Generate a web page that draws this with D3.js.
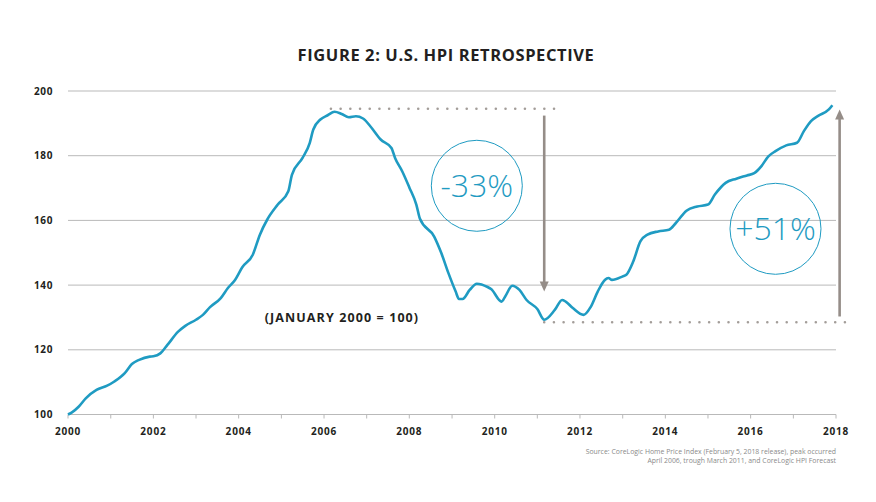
<!DOCTYPE html>
<html>
<head>
<meta charset="utf-8">
<script src="https://cdn.jsdelivr.net/npm/d3@7"></script>
<style>
  body { margin: 0; background: #fff; }
  text { font-family: 'Open Sans', 'Lato', sans-serif; }
</style>
</head>
<body>
<div id="chart"></div>
<script>
// monthly readings of the CoreLogic HPI (Jan 2000 = 100)
const months = [
  '2000-01', '2000-02', '2000-04', '2000-06', '2000-09', '2000-12',
  '2001-02', '2001-05', '2001-07', '2001-09', '2001-12',
  '2002-01', '2002-03', '2002-05', '2002-08', '2002-10',
  '2003-01', '2003-03', '2003-05', '2003-08', '2003-10', '2003-12',
  '2004-02', '2004-05', '2004-07', '2004-09', '2004-12',
  '2005-03', '2005-04', '2005-07', '2005-09', '2005-10', '2005-12',
  '2006-02', '2006-04', '2006-06', '2006-08', '2006-10', '2006-12',
  '2007-02', '2007-05', '2007-08', '2007-09', '2007-11',
  '2008-01', '2008-03', '2008-04', '2008-08', '2008-10', '2008-12',
  '2009-02', '2009-03', '2009-04', '2009-06', '2009-08', '2009-11', '2009-12',
  '2010-03', '2010-04', '2010-06', '2010-08', '2010-10',
  '2011-01', '2011-03', '2011-06', '2011-08', '2011-09', '2011-11',
  '2012-02', '2012-04', '2012-06', '2012-08', '2012-09', '2012-10',
  '2013-01', '2013-02', '2013-04', '2013-06', '2013-08', '2013-11',
  '2014-02', '2014-04', '2014-07', '2014-10',
  '2015-01', '2015-03', '2015-06', '2015-09', '2015-12',
  '2016-02', '2016-04', '2016-06', '2016-08', '2016-11',
  '2017-02', '2017-04', '2017-06', '2017-08', '2017-11', '2017-12'
]
const hpi = [
  100, 100.6, 102.4, 105, 107.6, 108.9,
  110.2, 112.8, 115.6, 116.9, 117.9,
  118, 118.9, 121.5, 125.6, 127.4,
  129.3, 130.8, 133.2, 136, 139.1, 141.6,
  145.5, 149.4, 155.6, 160.2, 164.9,
  169, 174.1, 179.3, 184, 188.1, 191.2,
  192.5, 193.6, 192.9, 191.9, 192.2, 191.5,
  189.1, 185, 182.4, 179.3, 175.2,
  170.2, 164.9, 160.5, 155, 149.9, 143.7,
  138, 135.7, 135.7, 138.5, 140.4, 139.4, 138.8,
  134.9, 136.5, 139.8, 138.5, 135.4,
  132.6, 129.3, 132.4, 135.4, 134.9, 132.9,
  130.8, 133.2, 138, 141.6, 142.2, 141.6,
  142.7, 143.2, 147.3, 153.5, 155.6, 156.6,
  157.1, 159.2, 163, 164.3,
  164.9, 168, 171.6, 172.9, 173.9,
  174.6, 176.7, 179.8, 181.4, 183.2,
  184, 187.6, 190.7, 192.3, 194.3, 195.6
]
const yTicks = [100, 120, 140, 160, 180, 200]
const tickYears = d3.range(2000, 2019)
const labelYears = [2000, 2002, 2004, 2006, 2008, 2010, 2012, 2014, 2016, 2018]

// peak / trough levels for the annotation
const peakLevel = 194.5
const troughLevel = 128.5
const peakSpan = ['2006-03', '2011-06']
const troughSpan = ['2011-03', '2018-06']
const downArrow = { month: '2011-03', from: 192.4, to: 138 }
const upArrow = { month: '2018-02', from: 130.3, to: 194.3 }
const badges = [
  { label: '-33%', month: '2009-08', value: 170.7 },
  { label: '+51%', month: '2016-08', value: 157.4 }
]

const teal = '#1f9bc2'
const taupe = '#958d88'
const ink = '#231f20'

var margin = { top: 91, left: 68, right: 40, bottom: 87.5 }
var width = 876 - margin.left - margin.right
var height = 502 - margin.top - margin.bottom

var root = d3
  .select('#chart')
  .append('svg')
  .attr('width', 876)
  .attr('height', 502)

var svg = root
  .append('g')
  .attr('transform', 'translate(' + margin.left + ',' + margin.top + ')')

const parse = d3.timeParse('%Y-%m')
const data = months.map((m, i) => ({ date: parse(m), value: hpi[i] }))

let xScale = d3
  .scaleTime()
  .domain([new Date(2000, 0, 1), new Date(2018, 0, 1)])
  .range([0, width])

let yScale = d3.scaleLinear().domain([100, 200]).range([height, 0])

// title
root
  .append('text')
  .text('FIGURE 2: U.S. HPI RETROSPECTIVE')
  .attr('x', 446)
  .attr('y', 61)
  .attr('text-anchor', 'middle')
  .attr('font-size', 16.5)
  .attr('font-weight', 700)
  .attr('letter-spacing', 0.6)
  .attr('fill', ink)

// gridlines
svg
  .selectAll('.grid')
  .data(yTicks)
  .enter()
  .append('line')
  .attr('class', 'grid')
  .attr('x1', 0)
  .attr('x2', width)
  .attr('y1', d => yScale(d))
  .attr('y2', d => yScale(d))
  .attr('stroke', '#b9b9b9')
  .attr('stroke-width', 1)

svg
  .selectAll('.y-label')
  .data(yTicks)
  .enter()
  .append('text')
  .attr('class', 'y-label')
  .text(d => d)
  .attr('x', -15)
  .attr('y', d => yScale(d))
  .attr('dy', '0.35em')
  .attr('text-anchor', 'end')
  .attr('font-size', 10)
  .attr('font-weight', 700)
  .attr('letter-spacing', 0.6)
  .attr('fill', ink)

// x axis ticks + labels
svg
  .selectAll('.x-tick')
  .data(tickYears)
  .enter()
  .append('line')
  .attr('class', 'x-tick')
  .attr('x1', d => xScale(new Date(d, 0, 1)))
  .attr('x2', d => xScale(new Date(d, 0, 1)))
  .attr('y1', height)
  .attr('y2', height + 4)
  .attr('stroke', '#b9b9b9')

svg
  .selectAll('.x-label')
  .data(labelYears)
  .enter()
  .append('text')
  .attr('class', 'x-label')
  .text(d => d)
  .attr('x', d => xScale(new Date(d, 0, 1)))
  .attr('y', height + 17)
  .attr('dy', '0.35em')
  .attr('text-anchor', 'middle')
  .attr('font-size', 10)
  .attr('font-weight', 700)
  .attr('letter-spacing', 0.8)
  .attr('fill', ink)

// dotted peak / trough guides
function dots(span, level) {
  svg
    .append('line')
    .attr('x1', xScale(parse(span[0])))
    .attr('x2', xScale(parse(span[1])))
    .attr('y1', yScale(level))
    .attr('y2', yScale(level))
    .attr('stroke', '#a39d99')
    .attr('stroke-width', 2.6)
    .attr('stroke-linecap', 'round')
    .attr('stroke-dasharray', '0 9.7')
}
dots(peakSpan, peakLevel)
dots(troughSpan, troughLevel)

// arrows
function arrow(a) {
  let x = xScale(parse(a.month))
  let y0 = yScale(a.from)
  let y1 = yScale(a.to)
  let dir = y1 > y0 ? 1 : -1
  svg
    .append('line')
    .attr('x1', x)
    .attr('x2', x)
    .attr('y1', y0)
    .attr('y2', y1 - dir * 8)
    .attr('stroke', taupe)
    .attr('stroke-width', 2.6)
  svg
    .append('path')
    .attr('d', `M${x - 4.5},${y1 - dir * 10}L${x + 4.5},${y1 - dir * 10}L${x},${y1}Z`)
    .attr('fill', taupe)
}
arrow(downArrow)
arrow(upArrow)

// the line
var line = d3
  .line()
  .x(d => xScale(d.date))
  .y(d => yScale(d.value))
  .curve(d3.curveMonotoneX)

svg
  .append('path')
  .datum(data)
  .attr('d', line)
  .attr('fill', 'none')
  .attr('stroke', teal)
  .attr('stroke-width', 2.6)
  .attr('stroke-linejoin', 'round')

// circled percentages
let badge = svg
  .selectAll('.badge')
  .data(badges)
  .enter()
  .append('g')
  .attr('class', 'badge')
  .attr('transform', d => `translate(${xScale(parse(d.month))},${yScale(d.value)})`)

badge
  .append('circle')
  .attr('r', 45.5)
  .attr('fill', 'none')
  .attr('stroke', teal)
  .attr('stroke-width', 1)

badge
  .append('text')
  .text(d => d.label)
  .attr('text-anchor', 'middle')
  .attr('dy', '0.35em')
  .attr('font-size', 32)
  .attr('font-weight', 300)
  .attr('fill', teal)

svg
  .append('text')
  .text('(JANUARY 2000 = 100)')
  .attr('x', 342 - margin.left)
  .attr('y', 318 - margin.top)
  .attr('dy', '0.35em')
  .attr('text-anchor', 'middle')
  .attr('font-size', 12.5)
  .attr('font-weight', 700)
  .attr('letter-spacing', 1.1)
  .attr('fill', ink)

// source note
let note = svg
  .append('text')
  .attr('text-anchor', 'end')
  .attr('font-size', 6.9)
  .attr('fill', '#8a8a8a')

note
  .append('tspan')
  .text('Source: CoreLogic Home Price Index (February 5, 2018 release), peak occurred')
  .attr('x', width)
  .attr('y', height + 39.5)

note
  .append('tspan')
  .text('April 2006, trough March 2011, and CoreLogic HPI Forecast')
  .attr('x', width)
  .attr('y', height + 48.5)
</script>
</body>
</html>
